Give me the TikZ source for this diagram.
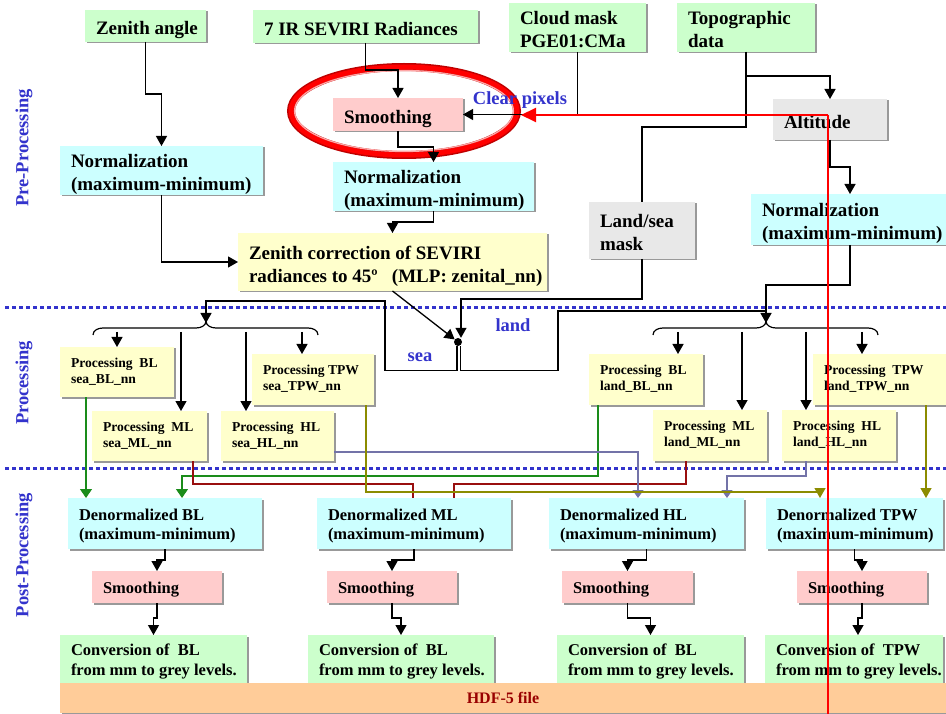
\documentclass[tikz,border=0pt]{standalone}
\usepackage{fontspec}
\setmainfont{Liberation Serif}
\usetikzlibrary{arrows.meta,shadows,shapes.geometric}
\definecolor{cgreen}{HTML}{CCFFCC}
\definecolor{ccyan}{HTML}{CCFFFF}
\definecolor{cpink}{HTML}{FFCCCC}
\definecolor{cyel}{HTML}{FFFFCC}
\definecolor{cgrey}{HTML}{E8E8E8}
\definecolor{corange}{HTML}{FFCC99}
\definecolor{lblue}{HTML}{3333CC}
\definecolor{lgreen}{HTML}{1A8C1A}
\definecolor{lred}{HTML}{990F0F}
\definecolor{lslate}{HTML}{7373A8}
\definecolor{lolive}{HTML}{8C8C00}
\definecolor{hdfred}{HTML}{990000}
\def\tdropval{0pt}
\newcommand\bxn[7]{%
  \pgfmathsetmacro\bxw{#4-#2-22}\pgfmathsetmacro\bxh{#5-#3}%
  \node[bx,#6,minimum height=\bxh pt] (#1) at (#2,#3)
    {\raisebox{-\tdropval}[\height][\depth]{\makebox[\bxw pt][l]{\begin{tabular}{@{}l@{}}#7\end{tabular}}}};}
\begin{document}
\begin{tikzpicture}[x=1pt,y=-1pt,
  tdrop/.code={\def\tdropval{#1}},
  bx/.style={anchor=north west, inner xsep=11pt, inner ysep=0pt, outer sep=0pt,
    general shadow={fill=black!40, shadow xshift=1.5pt, shadow yshift=-1.5pt}},
  fA/.style={font=\fontsize{19}{23}\selectfont\bfseries, tdrop=4pt},
  fB/.style={font=\fontsize{13.6}{16}\selectfont\bfseries, tdrop=0pt},
  fC/.style={font=\fontsize{16.5}{19.5}\selectfont\bfseries, tdrop=2.5pt},
  gbox/.style={fill=cgreen}, cbox/.style={fill=ccyan}, pbox/.style={fill=cpink},
  ybox/.style={fill=cyel}, greybox/.style={fill=cgrey},
  ln/.style={draw=black, line width=1.3pt},
  arr/.style={ln, -{Triangle[width=11pt,length=10pt]}},
  garr/.style={draw=lgreen, line width=1.3pt, -{Triangle[width=12pt,length=9pt]}},
  rln/.style={draw=lred, line width=1.3pt},
  barr/.style={draw=lslate, line width=1.3pt, -{Triangle[width=11pt,length=8pt]}},
  oarr/.style={draw=lolive, line width=1.3pt, -{Triangle[width=11pt,length=10pt]}},
  lbl/.style={text=lblue, font=\fontsize{18.5}{22}\selectfont\bfseries, inner sep=0pt},
  dotl/.style={draw=lblue, line width=3pt, dash pattern=on 4pt off 3pt},
  redln/.style={draw=red, line width=2pt},
  redarr/.style={redln, -{Triangle[width=14pt,length=15pt]}},
  brc/.style={draw=black, line width=1.2pt}
]
\fill[white] (0,0) rectangle (946,714);
\useasboundingbox (0,0) rectangle (946,714);

% separators
\coordinate (d1a) at (5,308); \coordinate (d1b) at (946,308);
\coordinate (d2a) at (5,468); \coordinate (d2b) at (946,468);
\draw[dotl] (d1a) -- (d1b);
\draw[dotl] (d2a) -- (d2b);

% side labels
\node[lbl, rotate=90] (pre) at (24,148) {Pre-Processing};
\node[lbl, rotate=90] (proc) at (24,383) {Processing};
\node[lbl, rotate=90] (post) at (24,555) {Post-Processing};

% pre-processing boxes
\bxn{za}{85}{10}{206}{42}{gbox,fA}{Zenith angle}
\bxn{ir}{253}{10}{478}{43}{gbox,fA}{7 IR SEVIRI Radiances}
\bxn{cm}{509}{3}{646}{52}{gbox,fA}{Cloud mask\\PGE01:CMa}
\bxn{td}{677}{3}{815}{52}{gbox,fA}{Topographic\\data}
\bxn{sm}{333}{98}{463}{131}{pbox,fA}{Smoothing}
\bxn{nl}{60}{146}{263}{195}{cbox,fA}{Normalization\\(maximum-minimum)}
\bxn{nm}{333}{162}{534}{211}{cbox,fA}{Normalization\\(maximum-minimum)}
\bxn{zc}{238}{233}{547}{291}{ybox,fA}{Zenith correction of SEVIRI\\radiances to 45º\ \ \ (MLP: zenital\_nn)}
\bxn{lsm}{589}{202}{695}{259}{greybox,fA}{Land/sea\\mask}
\bxn{alt}{773}{99}{887}{140}{greybox,fA}{Altitude}
\bxn{nr}{751}{194}{949}{245}{cbox,fA}{Normalization\\(maximum-minimum)}

% processing boxes
\bxn{psbl}{60}{347}{174}{397}{ybox,fB}{Processing\ \ BL\\sea\_BL\_nn}
\bxn{psml}{92}{411}{207}{461}{ybox,fB}{Processing\ \ ML\\sea\_ML\_nn}
\bxn{pshl}{221}{411}{334}{461}{ybox,fB}{Processing\ \ HL\\sea\_HL\_nn}
\bxn{pstpw}{252}{354}{374}{405}{ybox,fB}{Processing TPW\\sea\_TPW\_nn}
\bxn{plbl}{589}{354}{703}{405}{ybox,fB}{Processing\ \ BL\\land\_BL\_nn}
\bxn{plml}{653}{410}{767}{461}{ybox,fB}{Processing\ \ ML\\land\_ML\_nn}
\bxn{plhl}{782}{410}{896}{461}{ybox,fB}{Processing\ \ HL\\land\_HL\_nn}
\bxn{pltpw}{813}{354}{949}{405}{ybox,fB}{Processing\ \ TPW\\land\_TPW\_nn}

% post-processing boxes
\bxn{dbl}{68}{498}{262}{549}{cbox,fC}{Denormalized BL\\(maximum-minimum)}
\bxn{dml}{317}{498}{511}{549}{cbox,fC}{Denormalized ML\\(maximum-minimum)}
\bxn{dhl}{549}{498}{744}{549}{cbox,fC}{Denormalized HL\\(maximum-minimum)}
\bxn{dtpw}{766}{498}{943}{549}{cbox,fC}{Denormalized TPW\\(maximum-minimum)}
\bxn{sbl}{92}{571}{222}{603}{pbox,fC}{Smoothing}
\bxn{sml}{327}{571}{457}{603}{pbox,fC}{Smoothing}
\bxn{shl}{562}{571}{693}{603}{pbox,fC}{Smoothing}
\bxn{stpw}{797}{571}{927}{603}{pbox,fC}{Smoothing}
\bxn{cbl}{60}{635}{247}{683}{gbox,fC}{Conversion of\ \ BL\\from mm to grey levels.}
\bxn{cml}{308}{635}{494}{683}{gbox,fC}{Conversion of\ \ BL\\from mm to grey levels.}
\bxn{chl}{557}{635}{744}{683}{gbox,fC}{Conversion of\ \ BL\\from mm to grey levels.}
\bxn{ctpw}{765}{635}{943}{683}{gbox,fC}{Conversion of\ \ TPW\\from mm to grey levels.}
\node[bx, fill=corange, minimum width=886pt, minimum height=30pt, text=hdfred,
  font=\fontsize{16}{19}\selectfont\bfseries] (hdf) at (60,683) {HDF-5 file};

% red ring
\node[ellipse, draw=red!75!black, line width=8pt, minimum width=226pt, minimum height=88pt, inner sep=0pt] (ring) at (404,111) {};
\node[ellipse, draw=red, line width=5pt, minimum width=226pt, minimum height=88pt, inner sep=0pt] (ringb) at (404,111) {};
\node[ellipse, draw=red!35!white, line width=1.3pt, minimum width=219pt, minimum height=81pt, inner sep=0pt] (ringc) at (404,111) {};

% pre-processing connectors
\draw[arr] (za.south) -- ++(0,52) -| (nl.north);
\draw[arr] (ir.south) -- ++(0,27) -| (sm.north);
\draw[arr] (sm.south) -- ++(0,16) -| (nm.north);
\draw[arr] (nm.south) -- ++(0,11) -| (zc.north);
\draw[arr] (nl.south) |- (zc.west);
\draw[arr] (cm.south) |- (sm.east);
\draw[arr] (td.south) -- ++(0,24) -| (alt.north);
\draw[ln] (td.south) -- ++(0,75) -| (lsm.north);
\draw[arr] (alt.south) -- ++(0,27) -| (nr.north);

% switch
\node[circle, fill=black, inner sep=0pt, minimum size=8pt] (sw) at (458,342) {};
\coordinate (seab) at (206,323);
\coordinate (landb) at (766,323);
\draw[arr] (zc.south) -- (sw);
\draw[arr] (lsm.south) -- ++(0,40) -| ([xshift=3pt]sw.north);
\draw[arr] ([xshift=-1pt]sw.south) -- ++(0,24) -| (385,301) -| (seab);
\draw[ln] ([xshift=2.5pt]sw.south) -- ++(0,24) -| (558,311) -- (766,311);
\draw[arr] (nr.south) -- ++(0,40) -| (landb);
\node[lbl] (landlbl) at (513,325) {land};
\node[lbl] (sealbl) at (420,357) {sea};
\node[lbl] (clear) at (520,100) {Clear pixels};

% braces
\draw[brc] (93,335) to[out=90,in=180] (103,328) -- (196,328) to[out=0,in=270] (206,321)
  to[out=270,in=180] (216,328) -- (308,328) to[out=0,in=90] (318,335);
\draw[brc] (653,335) to[out=90,in=180] (663,328) -- (756,328) to[out=0,in=270] (766,321)
  to[out=270,in=180] (776,328) -- (868,328) to[out=0,in=90] (878,335);
\draw[arr] (117,332) -- (117,0 |- psbl.north);
\draw[arr] (181,332) -- (181,0 |- psml.north);
\draw[arr] (246,332) -- (246,0 |- pshl.north);
\draw[arr] (302,332) -- (302,0 |- pstpw.north);
\draw[arr] (678,332) -- (678,0 |- plbl.north);
\draw[arr] (742,332) -- (742,0 |- plml.north);
\draw[arr] (806,332) -- (806,0 |- plhl.north);
\draw[arr] (862,332) -- (862,0 |- pltpw.north);

% processing -> denormalization
\draw[garr] (86,0 |- psbl.south) -- (86,0 |- dbl.north);
\draw[garr] (598,0 |- plbl.south) -- (598,476) -- (182,476) -- (182,0 |- dbl.north);
\draw[rln] (193,0 |- psml.south) -- (193,484) -- (413,484) -- (413,0 |- dml.north);
\draw[rln] (686,0 |- plml.south) -- (686,484) -- (454,484) -- (454,0 |- dml.north);
\draw[barr] (pshl.east |- 0,452) -- (638,452) -- (638,0 |- dhl.north);
\draw[barr] (806,0 |- plhl.south) -- (806,476) -- (727,476) -- (727,0 |- dhl.north);
\draw[oarr] (366,0 |- pstpw.south) -- (366,492) -- (820,492) -- (820,0 |- dtpw.north);
\draw[oarr] (926,0 |- pltpw.south) -- (926,0 |- dtpw.north);

% post-processing connectors
\draw[arr] (dbl.south) -- ++(0,11) -| (sbl.north);
\draw[arr] (sbl.south) -- ++(0,15) -| (cbl.north);
\draw[arr] (dml.south) -- ++(0,11) -| (sml.north);
\draw[arr] (sml.south) -- ++(0,15) -| (cml.north);
\draw[arr] (dhl.south) -- ++(0,11) -| (shl.north);
\draw[arr] (shl.south) -- ++(0,15) -| (chl.north);
\draw[arr] (dtpw.south) -- ++(0,11) -| (stpw.north);
\draw[arr] (stpw.south) -- ++(0,15) -| ([xshift=4pt]ctpw.north);

% red annotation
\coordinate (rtop) at (828,115);
\coordinate (rbot) at (828,714);
\draw[redln] (rtop) -- (rbot);
\draw[redarr] (rtop) -- (rtop -| ring.east);
\end{tikzpicture}
\end{document}
